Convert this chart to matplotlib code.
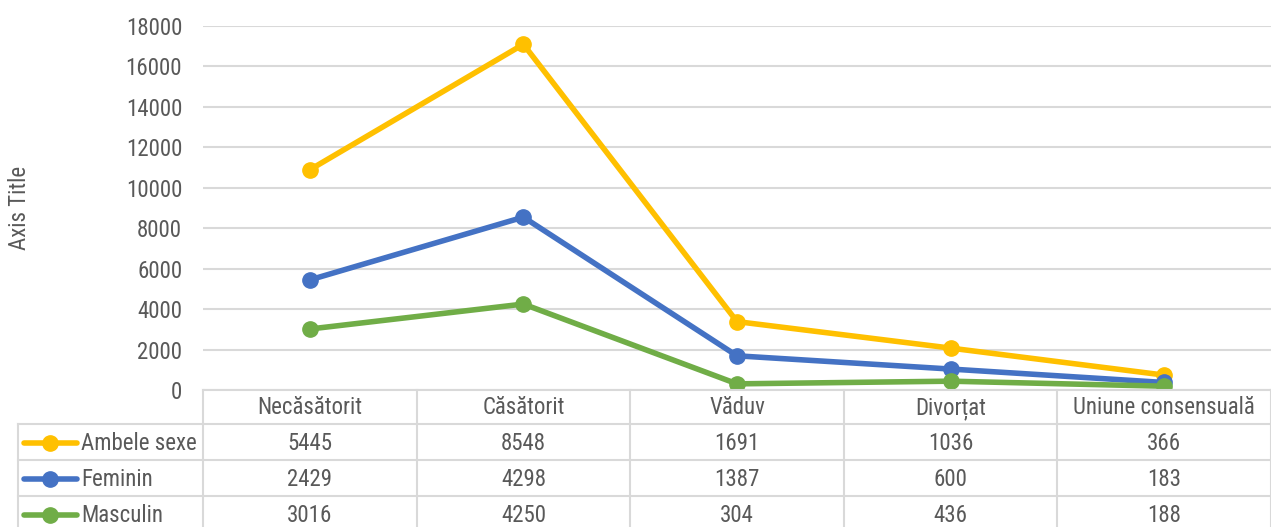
import matplotlib
matplotlib.use("Agg")
import matplotlib.pyplot as plt
import numpy as np
from matplotlib import font_manager

categories = ["Necăsătorit", "Căsătorit", "Văduv", "Divorțat", "Uniune consensuală"]
series_names = ["Ambele sexe", "Feminin", "Masculin"]
ambele = [5445, 8548, 1691, 1036, 366]
feminin = [2429, 4298, 1387, 600, 183]
masculin = [3016, 4250, 304, 436, 188]
colors = ["#FFC000", "#4472C4", "#70AD47"]
yticks = [0, 2000, 4000, 6000, 8000, 10000, 12000, 14000, 16000, 18000]

names = set(f.name for f in font_manager.fontManager.ttflist)
cands = ["Liberation Sans Narrow", "Roboto Condensed", "Archivo Narrow", "Liberation Sans"]
fam = next(c for c in cands if c in names)
plt.rcParams["font.family"] = [fam, "DejaVu Sans"]

W, H = 1271, 527
fig = plt.figure(figsize=(W / 100, H / 100), dpi=100)
txt = "#595959"
grid = "#D9D9D9"
FS = 16.5

def fx(px):
    return px / W

def fy(py):
    return 1 - py / H

L, R, T, B = 203, 1271, 26, 390
ax = fig.add_axes([fx(L), fy(B), fx(R) - fx(L), fy(T) - fy(B)])
ax.set_xlim(-0.5, 4.5)
ax.set_ylim(0, 18000)
ax.set_yticks(yticks)
ax.set_yticklabels([str(v) for v in yticks], fontsize=FS, color=txt)
ax.tick_params(axis="y", length=0, pad=15)
ax.set_xticks([])
for s in ax.spines.values():
    s.set_visible(False)
ax.grid(axis="y", color=grid, linewidth=1.5)
ax.set_axisbelow(True)

# stacked lines: Masculin at bottom, then Feminin, then Ambele sexe
m = np.array(masculin)
f = m + np.array(feminin)
a = f + np.array(ambele)
x = np.arange(len(categories))
for vals, c in [(a, colors[0]), (f, colors[1]), (m, colors[2])]:
    ax.plot(x, vals, color=c, linewidth=4, marker="o", markersize=11, zorder=3,
            solid_capstyle="round")

fig.text(fx(20), fy(208), "Axis Title", rotation=90, ha="center", va="center",
         fontsize=FS, color=txt)

# data table
tab = fig.add_axes([0, 0, 1, 1])
tab.set_xlim(0, W)
tab.set_ylim(H, 0)
tab.axis("off")
tab.patch.set_alpha(0)
colw = (R - L) / 5
bounds = [L + colw * i for i in range(6)]
rows = [390, 424, 460, 496, 532]
lw = 1.5
tab.plot([L, R], [rows[0], rows[0]], color=grid, lw=lw)
for yy in rows[1:]:
    tab.plot([18, R], [yy, yy], color=grid, lw=lw)
tab.plot([18, 18], [rows[1], H], color=grid, lw=lw)
for bx in bounds:
    tab.plot([bx, bx], [rows[0], H], color=grid, lw=lw)

for i, c in enumerate(categories):
    tab.text((bounds[i] + bounds[i + 1]) / 2, (rows[0] + rows[1]) / 2 + 1, c,
             ha="center", va="center", fontsize=FS, color=txt)

data = [ambele, feminin, masculin]
for r, (nm, vals, c) in enumerate(zip(series_names, data, colors)):
    yc = (rows[r + 1] + rows[r + 2]) / 2 + 1
    tab.plot([24, 77], [yc, yc], color=c, lw=4, solid_capstyle="round")
    tab.plot([50], [yc], marker="o", color=c, markersize=11)
    tab.text(81, yc, nm, ha="left", va="center", fontsize=FS, color=txt)
    for i, v in enumerate(vals):
        tab.text((bounds[i] + bounds[i + 1]) / 2, yc, str(v), ha="center",
                 va="center", fontsize=FS, color=txt)

fig.savefig("out.png", dpi=100)
